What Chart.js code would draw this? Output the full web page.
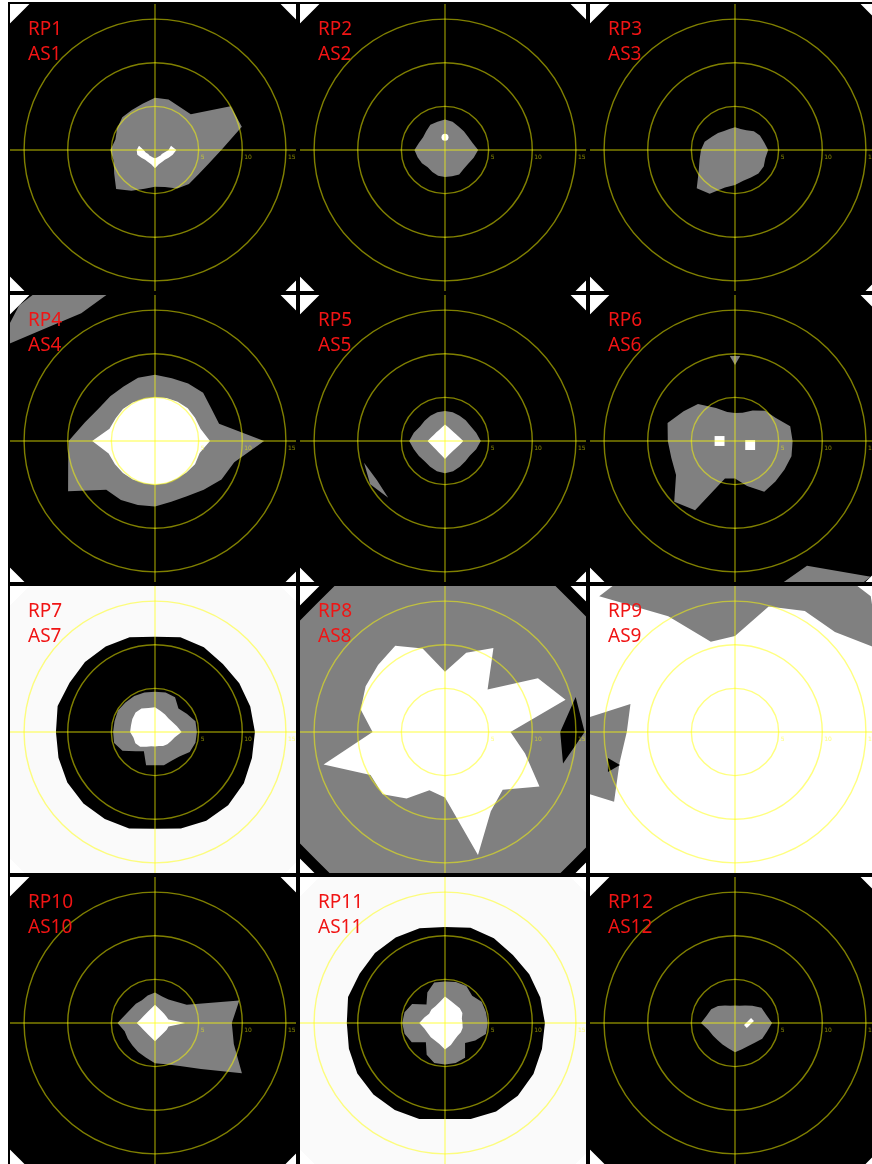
<!DOCTYPE html>
<html>
<head>
<meta charset="utf-8">
<script src="https://cdn.jsdelivr.net/npm/chart.js@4.4.1/dist/chart.umd.min.js"></script>
<style>
  html, body { margin: 0; padding: 0; background: #fff; overflow: hidden; }
  body { width: 872px; height: 1164px; position: relative; }
  .cell { position: absolute; width: 290px; height: 291px; box-sizing: border-box;
          border: 2px solid #000; overflow: hidden; background: #fff; }
  .cell canvas { position: absolute; left: -47px; top: -46px; }
  .tag { position: absolute; left: 18px; top: 12px; z-index: 2;
         font: 19px/25px "Noto Sans", sans-serif; color: #f01414; }
</style>
</head>
<body>
<script>
// bearings (degrees clockwise from north) of the radial samples
const BEARINGS = ['0', '15', '30', '45', '60', '75', '90', '105', '120', '135', '150', '165',
                  '180', '195', '210', '225', '240', '255', '270', '285', '300', '315', '330', '345'];
const RINGS = [5, 10, 15];
const R_MAX = 22;

// edge of the measured field, corners cut flat
const FIELD_EDGE = [22, 22, 22.8, 22, 22.8, 22, 22, 22, 22.8, 22, 22.8, 22,
                    22, 22, 22.8, 22, 22.8, 22, 22, 22, 22.8, 22, 22.8, 22];

const RP1_GRAY = [6.0, 6.0, 5.7, 5.8, 10.0, 10.3, 7.6, 6.3, 5.7, 5.5, 5.1, 4.4,
                  4.2, 4.6, 5.4, 6.3, 5.4, 4.9, 5.1, 4.7, 5.0, 5.3, 5.3, 5.5];
const RP1_V_IN  = [1.7, 1.7, 1.7, 1.7, 1.7, 1.9, 1.55, 1.1, 0.9, 0.9, 0.86, 0.9,
                   0.95, 0.9, 0.86, 0.9, 0.9, 1.1, 1.3, 1.9, 1.7, 1.7, 1.7, 1.7];
const RP1_V_OUT = [1.7, 1.7, 1.7, 1.7, 1.7, 1.9, 2.45, 2.1, 1.8, 1.6, 1.6, 1.7,
                   2.1, 1.7, 1.6, 1.6, 1.8, 2.1, 2.1, 1.9, 1.7, 1.7, 1.7, 1.7];

const RP2_GRAY = [3.5, 3.35, 3.1, 3.05, 3.05, 3.25, 3.8, 3.4, 3.1, 3.05, 3.25, 3.1,
                  3.1, 3.05, 2.9, 2.8, 3.05, 3.25, 3.5, 3.1, 2.9, 3.05, 3.35, 3.35];
const RP2_SPECK = [1.45, null, null, null, null, null, null, null, null, null, null, null,
                   null, null, null, null, null, null, null, null, null, null, null, null];

const RP3_GRAY = [2.6, 2.5, 2.6, 3.05, 3.3, 3.45, 3.8, 3.6, 3.8, 3.8, 3.65, 3.65,
                  4.0, 4.45, 5.8, 6.2, 4.8, 4.2, 3.9, 3.6, 3.05, 2.75, 2.5, 2.5];

const RP4_GRAY = [7.6, 7.45, 7.6, 7.8, 7.45, 7.6, 12.5, 9.4, 8.8, 7.9, 7.3, 7.2,
                  7.5, 7.6, 7.8, 7.9, 11.5, 10.3, 9.9, 8.3, 7.45, 7.25, 7.2, 7.5];
const RP4_WHITE = [5.0, 5.1, 5.2, 5.3, 5.3, 5.4, 6.3, 5.3, 5.3, 5.1, 5.0, 5.0,
                   5.0, 5.0, 5.1, 5.2, 5.3, 5.5, 7.2, 5.4, 5.2, 5.2, 5.1, 5.0];
const RP4_CORNER_IN  = [21, 21, 21, 21, 21, 21, 21, 21, 21, 21, 21, 21,
                        21, 21, 21, 21, 21, 21, 21, 21, 21, 18.1, 16.9, 18];
const RP4_CORNER_OUT = [21, 21, 21, 21, 21, 21, 21, 21, 21, 21, 21, 21,
                        21, 21, 21, 21, 21, 21, 21, 21, 21, 22, 22, 18];

const RP5_GRAY = [3.45, 3.4, 3.35, 3.35, 3.4, 3.7, 4.1, 3.7, 3.3, 3.3, 3.4, 3.6,
                  3.7, 3.6, 3.4, 3.3, 3.45, 3.7, 4.1, 3.7, 3.3, 3.3, 3.35, 3.4];
const RP5_WHITE = [1.9, 1.6, 1.45, 1.42, 1.5, 1.7, 2.1, 1.72, 1.52, 1.45, 1.5, 1.67,
                   2.05, 1.67, 1.5, 1.43, 1.47, 1.63, 2.0, 1.63, 1.46, 1.4, 1.42, 1.58];
const RP5_SLIVER_IN  = [9.4, 9.4, 9.4, 9.4, 9.4, 9.4, 9.4, 9.4, 9.4, 9.4, 9.4, 9.4,
                        9.4, 9.4, 9.4, 9.2, 9.0, 9.6, 9.4, 9.4, 9.4, 9.4, 9.4, 9.4];
const RP5_SLIVER_OUT = [9.4, 9.4, 9.4, 9.4, 9.4, 9.4, 9.4, 9.4, 9.4, 9.4, 9.4, 9.4,
                        9.4, 9.4, 9.4, 9.2, 9.9, 9.6, 9.4, 9.4, 9.4, 9.4, 9.4, 9.4];

const RP6_GRAY = [3.2, 3.35, 4.05, 4.9, 5.35, 6.55, 6.6, 6.7, 6.55, 6.55, 6.7, 5.35,
                  4.3, 4.45, 9.15, 9.85, 7.8, 7.55, 7.7, 8.0, 6.8, 6.0, 4.35, 3.45];
const RP6_TIP = [9.4, null, null, null, null, null, null, null, null, null, null, null,
                 null, null, null, null, null, null, null, null, null, null, null, null];
const RP6_SQUARES = [null, null, null, null, null, null, null, 1.8, null, null, null, null,
                     null, null, null, null, null, null, 1.77, null, null, null, null, null];
const RP6_MOUND_IN  = [22, 22, 22, 22, 22, 22, 22, 22, 22, 22, 16.5, 17.5,
                       22, 22, 22, 22, 22, 22, 22, 22, 22, 22, 22, 22];
const RP6_MOUND_OUT = [22, 22, 22, 22, 22, 22, 22, 22, 22, 22, 22, 17.5,
                       22, 22, 22, 22, 22, 22, 22, 22, 22, 22, 22, 22];

const RP7_BLACK = [10.9, 11.25, 11.2, 11.0, 11.15, 11.3, 11.45, 11.5, 11.75, 11.85, 11.75, 11.45,
                   11.1, 11.45, 11.5, 11.6, 11.6, 11.45, 11.35, 11.55, 11.3, 11.35, 11.3, 11.25];
const RP7_GRAY = [4.6, 4.7, 4.6, 3.8, 4.2, 4.8, 4.8, 4.8, 4.6, 3.95, 3.8, 3.95,
                  3.8, 3.95, 2.55, 3.1, 4.3, 4.85, 4.8, 4.8, 4.9, 4.8, 4.75, 4.7];
const RP7_WHITE = [2.85, 2.5, 2.3, 2.2, 2.3, 2.6, 3.05, 2.35, 2.1, 2.0, 1.85, 1.65,
                   1.65, 1.7, 1.95, 2.4, 2.6, 2.55, 2.85, 2.85, 3.0, 3.15, 3.1, 2.85];

const RP8_GRAY = [20.8, 20.8, 21.5, 20.8, 21.5, 20.8, 20.8, 20.8, 21.5, 20.8, 21.5, 20.8,
                  20.8, 20.8, 21.5, 20.8, 21.5, 20.8, 20.8, 20.8, 21.5, 20.8, 21.5, 20.8];
const RP8_WHITE = [6.9, 9.4, 11.1, 6.9, 12.3, 14.3, 7.5, 9.5, 12.5, 9.35, 10.5, 14.6,
                   7.5, 6.9, 8.8, 10.1, 9.85, 14.4, 8.3, 10.0, 10.5, 10.85, 11.4, 9.9];
const RP8_BLACK_IN  = [15, 15, 15, 15, 15, 15.5, 13.2, 14.0, 15, 15, 15, 15,
                       15, 15, 15, 15, 15, 15, 15, 15, 15, 15, 15, 15];
const RP8_BLACK_OUT = [15, 15, 15, 15, 15, 15.5, 16.0, 14.0, 15, 15, 15, 15,
                       15, 15, 15, 15, 15, 15, 15, 15, 15, 15, 15, 15];

const RP9_TOP_IN  = [11.0, 14.9, 16.0, 16.2, 19, 22, 22, 22, 22, 22, 22, 22,
                     22, 22, 22, 22, 22, 22, 22, 22, 22, 22, 15.3, 10.7];
const RP9_TOP_OUT = [22, 22, 22, 22, 19, 22, 22, 22, 22, 22, 22, 22,
                     22, 22, 22, 22, 22, 22, 22, 22, 22, 22, 22, 22];
const RP9_LEFT_IN  = [22, 22, 22, 22, 22, 22, 22, 22, 22, 22, 22, 22,
                      22, 22, 22, 22, 16, 13.7, 12.4, 12.4, 22, 22, 22, 22];
const RP9_LEFT_OUT = [22, 22, 22, 22, 22, 22, 22, 22, 22, 22, 22, 22,
                      22, 22, 22, 22, 16, 22, 22, 12.4, 22, 22, 22, 22];
const RP9_SPOT = [null, null, null, null, null, null, null, null, null, null, null, null,
                  null, null, null, null, null, 14.6, null, null, null, null, null, null];

const RP10_GRAY = [3.5, 3.15, 3.1, 3.45, 4.2, 10.0, 8.8, 9.35, 11.5, 7.45, 5.7, 4.9,
                   4.6, 4.1, 3.85, 3.65, 3.6, 3.6, 4.3, 3.55, 3.2, 3.1, 3.0, 3.25];
const RP10_WHITE = [2.1, 1.71, 1.54, 1.48, 1.5, 1.6, 3.45, 1.6, 1.55, 1.5, 1.54, 1.71,
                    2.1, 1.71, 1.54, 1.48, 1.54, 1.71, 2.1, 1.71, 1.54, 1.48, 1.54, 1.71];

const RP11_BLACK = [11.0, 11.3, 11.2, 11.0, 11.15, 11.3, 11.45, 11.5, 11.7, 11.8, 11.7, 11.4,
                    11.0, 11.4, 11.5, 11.6, 11.6, 11.4, 11.25, 11.5, 11.3, 11.35, 11.3, 11.25];
const RP11_GRAY = [4.75, 4.85, 4.9, 4.4, 4.85, 4.85, 4.9, 4.85, 4.0, 3.25, 4.6, 4.75,
                   4.75, 4.75, 4.2, 3.1, 4.4, 4.8, 4.9, 4.8, 4.35, 3.0, 4.05, 4.8];
const RP11_WHITE = [3.05, 2.6, 2.4, 2.4, 2.3, 2.0, 2.0, 2.1, 2.1, 2.05, 2.2, 2.6,
                    3.05, 2.5, 2.3, 2.3, 2.3, 2.45, 2.95, 2.45, 2.1, 2.2, 2.2, 2.45];

const RP12_GRAY = [2.0, 2.05, 2.3, 2.8, 3.5, 3.7, 4.25, 3.8, 3.6, 3.2, 3.05, 3.1,
                   3.35, 3.0, 2.85, 2.8, 2.9, 3.15, 3.9, 3.35, 3.15, 2.75, 2.3, 2.05];
const RP12_SPECK = [null, null, null, null, null, null, 1.6, null, null, null, null, null,
                    null, null, null, null, null, null, null, null, null, null, null, null];

const BLACK = '#000000', GRAY = '#808080', WHITE = '#ffffff', PALE = '#fafafa';
const GRID = 'rgba(255, 255, 0, 0.5)';

const panels = [
  { tag: ['RP1', 'AS1'], layers: [
      { color: BLACK, r: FIELD_EDGE }, { color: GRAY, r: RP1_GRAY },
      { color: WHITE, r: RP1_V_OUT, inner: RP1_V_IN }] },
  { tag: ['RP2', 'AS2'], layers: [
      { color: BLACK, r: FIELD_EDGE }, { color: GRAY, r: RP2_GRAY }],
    marks: [{ color: WHITE, r: RP2_SPECK, style: 'circle', size: 3.5 }] },
  { tag: ['RP3', 'AS3'], layers: [
      { color: BLACK, r: FIELD_EDGE }, { color: GRAY, r: RP3_GRAY }] },
  { tag: ['RP4', 'AS4'], layers: [
      { color: BLACK, r: FIELD_EDGE }, { color: GRAY, r: RP4_GRAY },
      { color: WHITE, r: RP4_WHITE },
      { color: GRAY, r: RP4_CORNER_OUT, inner: RP4_CORNER_IN }] },
  { tag: ['RP5', 'AS5'], layers: [
      { color: BLACK, r: FIELD_EDGE }, { color: GRAY, r: RP5_GRAY },
      { color: WHITE, r: RP5_WHITE },
      { color: GRAY, r: RP5_SLIVER_OUT, inner: RP5_SLIVER_IN }] },
  { tag: ['RP6', 'AS6'], layers: [
      { color: BLACK, r: FIELD_EDGE }, { color: GRAY, r: RP6_GRAY },
      { color: GRAY, r: RP6_MOUND_OUT, inner: RP6_MOUND_IN }],
    marks: [{ color: GRAY, r: RP6_TIP, style: 'triangle', size: 6, rotation: 180 },
            { color: WHITE, r: RP6_SQUARES, style: 'rect', size: 7 }] },
  { tag: ['RP7', 'AS7'], layers: [
      { color: PALE, r: FIELD_EDGE }, { color: BLACK, r: RP7_BLACK },
      { color: GRAY, r: RP7_GRAY }, { color: WHITE, r: RP7_WHITE }] },
  { tag: ['RP8', 'AS8'], layers: [
      { color: BLACK, r: FIELD_EDGE }, { color: GRAY, r: RP8_GRAY },
      { color: WHITE, r: RP8_WHITE },
      { color: BLACK, r: RP8_BLACK_OUT, inner: RP8_BLACK_IN }] },
  { tag: ['RP9', 'AS9'], layers: [
      { color: WHITE, r: FIELD_EDGE },
      { color: GRAY, r: RP9_TOP_OUT, inner: RP9_TOP_IN },
      { color: GRAY, r: RP9_LEFT_OUT, inner: RP9_LEFT_IN }],
    marks: [{ color: BLACK, r: RP9_SPOT, style: 'triangle', size: 8, rotation: 90 }] },
  { tag: ['RP10', 'AS10'], layers: [
      { color: BLACK, r: FIELD_EDGE }, { color: GRAY, r: RP10_GRAY },
      { color: WHITE, r: RP10_WHITE }] },
  { tag: ['RP11', 'AS11'], layers: [
      { color: PALE, r: FIELD_EDGE }, { color: BLACK, r: RP11_BLACK },
      { color: GRAY, r: RP11_GRAY }, { color: WHITE, r: RP11_WHITE }] },
  { tag: ['RP12', 'AS12'], layers: [
      { color: BLACK, r: FIELD_EDGE }, { color: GRAY, r: RP12_GRAY }],
    marks: [{ color: WHITE, r: RP12_SPECK, style: 'line', size: 5, rotation: -45, border: 4 }] },
];

// each filled layer is a radar polygon; rings (inner given) fill between two polygons
function buildDatasets(p) {
  const sets = [];
  let order = 100;
  p.layers.forEach(layer => {
    if (layer.inner) {
      sets.push({ data: layer.inner, fill: false, borderWidth: 0, pointRadius: 0,
                  backgroundColor: 'transparent', order: order });
      sets.push({ data: layer.r, fill: sets.length - 1, borderWidth: 0, pointRadius: 0,
                  backgroundColor: layer.color, order: order - 1 });
    } else {
      sets.push({ data: layer.r, fill: 'origin', borderWidth: 0, pointRadius: 0,
                  backgroundColor: layer.color, order: order });
    }
    order -= 2;
  });
  (p.marks || []).forEach(m => {
    sets.push({ data: m.r, showLine: false, fill: false, pointStyle: m.style,
                pointRadius: m.size, pointRotation: m.rotation || 0,
                pointBackgroundColor: m.color, pointBorderColor: m.color,
                pointBorderWidth: m.border || 0, order: 0 });
  });
  return sets;
}

// ring values written on the east axis
const ringLabels = {
  id: 'ringLabels',
  afterDraw(chart) {
    const s = chart.scales.r;
    const ctx = chart.ctx;
    ctx.save();
    ctx.font = '6px "DejaVu Sans"';
    ctx.fillStyle = GRID;
    ctx.textBaseline = 'middle';
    RINGS.forEach(v => {
      ctx.fillText(String(v), s.xCenter + s.getDistanceFromCenterForValue(v) + 2, s.yCenter + 7);
    });
    ctx.restore();
  }
};

panels.forEach((p, i) => {
  const cell = document.createElement('div');
  cell.className = 'cell';
  cell.style.left = (8 + 290 * (i % 3)) + 'px';
  cell.style.top = (2 + 291 * Math.floor(i / 3)) + 'px';
  const canvas = document.createElement('canvas');
  canvas.width = 384;
  canvas.height = 384;
  cell.appendChild(canvas);
  const tag = document.createElement('div');
  tag.className = 'tag';
  tag.innerHTML = p.tag[0] + '<br>' + p.tag[1];
  cell.appendChild(tag);
  document.body.appendChild(cell);

  new Chart(canvas, {
    type: 'radar',
    data: { labels: BEARINGS, datasets: buildDatasets(p) },
    options: {
      responsive: false,
      animation: false,
      events: [],
      layout: { padding: 0 },
      elements: { line: { tension: 0 } },
      plugins: { legend: { display: false }, tooltip: { enabled: false } },
      scales: {
        r: {
          min: 0,
          max: R_MAX,
          startAngle: 0,
          ticks: { display: false, stepSize: 5 },
          pointLabels: { display: false },
          grid: {
            circular: true,
            z: 1,
            lineWidth: 1.4,
            color: c => RINGS.includes(c.tick.value) ? GRID : 'transparent'
          },
          angleLines: {
            lineWidth: 1.4,
            color: c => c.index % 6 === 0 ? GRID : 'transparent'
          }
        }
      }
    },
    plugins: [ringLabels]
  });
});
</script>
</body>
</html>
